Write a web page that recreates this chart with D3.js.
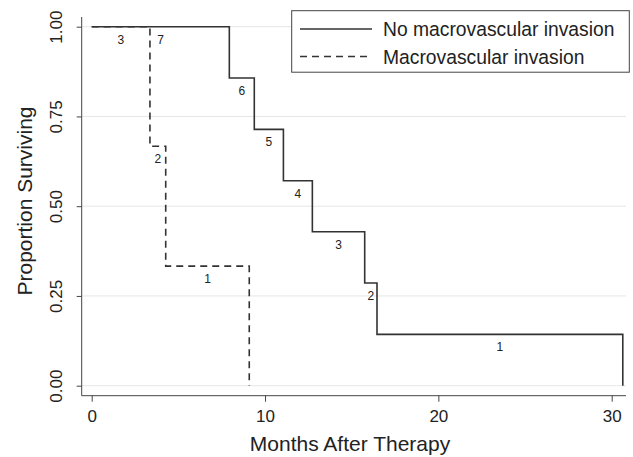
<!DOCTYPE html>
<html>
<head>
<meta charset="utf-8">
<script src="https://cdn.jsdelivr.net/npm/d3@7"></script>
<style>
  body { margin: 0; background: #fff; }
  text { font-family: "Liberation Sans", Arial, sans-serif; fill: #222; }
</style>
</head>
<body>
<svg id="chart" width="633" height="457"></svg>
<script>
// step times (months) and survival level after each step
const noInvTimes = [0, 7.94, 9.38, 11.06, 12.73, 15.75, 16.46, 30.64]
const noInvSurv = [1, 0.857, 0.714, 0.571, 0.429, 0.286, 0.143, 0]
const noInvRisk = [7, 6, 5, 4, 3, 2, 1]

const invTimes = [0, 3.36, 4.27, 9.09]
const invSurv = [1, 0.667, 0.333, 0]
const invRisk = [3, 2, 1]

const xTicks = [0, 10, 20, 30]
const yTicks = [0, 0.25, 0.5, 0.75, 1]
const legendLabels = ['No macrovascular invasion', 'Macrovascular invasion']

const svg = d3.select('#chart')
const lineColor = '#333'
const plotLeft = 81.7, plotRight = 626, plotTop = 17, plotBottom = 395.7

const x = d3.scaleLinear().domain([0, 30]).range([91.7, 611.7])
const y = d3.scaleLinear().domain([0, 1]).range([385.7, 26.7])

// grid
svg.append('g')
  .selectAll('line')
  .data(yTicks)
  .join('line')
  .attr('x1', plotLeft).attr('x2', plotRight)
  .attr('y1', d => y(d)).attr('y2', d => y(d))
  .attr('stroke', '#e6e6e6')
  .attr('stroke-width', 1)

// axes
const yAxis = svg.append('g')
  .attr('transform', `translate(${plotLeft},0)`)
  .call(d3.axisLeft(y).tickValues(yTicks).tickFormat(d3.format('.2f')).tickSize(5).tickPadding(8))
yAxis.select('.domain').attr('d', `M0,${plotTop}V${plotBottom}`)
yAxis.selectAll('.tick text')
  .attr('transform', 'rotate(-90)')
  .attr('x', 0).attr('y', -26)
  .attr('dy', '0.35em')
  .style('text-anchor', 'middle')
  .style('font-size', '17px')

const xAxis = svg.append('g')
  .attr('transform', `translate(0,${plotBottom})`)
  .call(d3.axisBottom(x).tickValues(xTicks).tickSize(6).tickPadding(8))
xAxis.select('.domain').attr('d', `M${plotLeft},0H${plotRight}`)
xAxis.selectAll('.tick text').style('font-size', '17px')

svg.selectAll('.domain, .tick line').attr('stroke', '#444')
svg.selectAll('.tick text').attr('fill', '#222').style('font-family', '"Liberation Sans", Arial, sans-serif')

// titles
svg.append('text')
  .attr('x', 350).attr('y', 451)
  .attr('text-anchor', 'middle')
  .style('font-size', '21px')
  .text('Months After Therapy')

svg.append('text')
  .attr('transform', 'translate(32,201) rotate(-90)')
  .attr('text-anchor', 'middle')
  .style('font-size', '21px')
  .text('Proportion Surviving')

// step curves
const stepPath = (times, surv) => {
  const pts = []
  for (let i = 0; i < times.length - 1; i++) {
    pts.push([times[i], surv[i]], [times[i + 1], surv[i]])
  }
  pts.push([times[times.length - 1], surv[surv.length - 1]])
  return d3.line().x(d => x(d[0])).y(d => y(d[1]))(pts)
}

svg.append('path')
  .attr('d', stepPath(noInvTimes, noInvSurv))
  .attr('fill', 'none').attr('stroke', lineColor).attr('stroke-width', 1.6)

svg.append('path')
  .attr('d', stepPath(invTimes, invSurv))
  .attr('fill', 'none').attr('stroke', lineColor).attr('stroke-width', 1.6)
  .attr('stroke-dasharray', '7,5')

// numbers at risk, at mid-interval just below the step
const riskLabels = (times, surv, risk) => risk.map((r, i) => ({
  x: (x(times[i]) + x(times[i + 1])) / 2,
  y: y(surv[i]) + 17,
  r
}))

svg.append('g')
  .selectAll('text')
  .data(riskLabels(noInvTimes, noInvSurv, noInvRisk).concat(riskLabels(invTimes, invSurv, invRisk)))
  .join('text')
  .attr('x', d => d.x).attr('y', d => d.y)
  .attr('text-anchor', 'middle')
  .style('font-size', '12px')
  .text(d => d.r)

// legend
const lg = svg.append('g')
lg.append('rect')
  .attr('x', 291.7).attr('y', 10.7)
  .attr('width', 337.6).attr('height', 61.5)
  .attr('fill', '#fff').attr('stroke', '#444').attr('stroke-width', 1)

lg.selectAll('line')
  .data(legendLabels)
  .join('line')
  .attr('x1', 300).attr('x2', 372)
  .attr('y1', (d, i) => 29 + i * 27.5).attr('y2', (d, i) => 29 + i * 27.5)
  .attr('stroke', lineColor).attr('stroke-width', 1.6)
  .attr('stroke-dasharray', (d, i) => i ? '7,5' : null)

lg.selectAll('text')
  .data(legendLabels)
  .join('text')
  .attr('x', 383).attr('y', (d, i) => 36 + i * 27.5)
  .style('font-size', '19.3px')
  .text(d => d)
</script>
</body>
</html>
